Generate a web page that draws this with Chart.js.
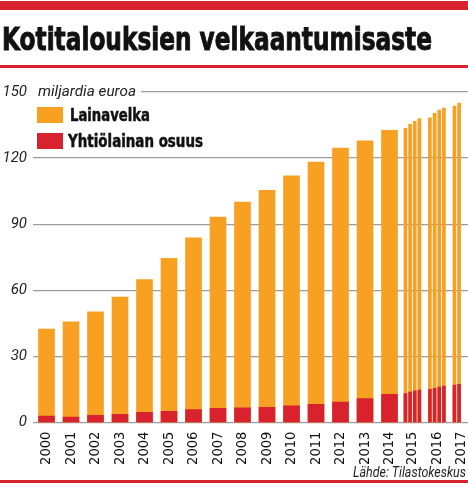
<!DOCTYPE html>
<html><head><meta charset="utf-8">
<script src="https://cdn.jsdelivr.net/npm/chart.js@4.4.1/dist/chart.umd.min.js"></script>
<style>
html,body{margin:0;padding:0;background:#fff;}
#wrap{position:relative;width:468px;height:486px;overflow:hidden;background:#fff;}
#c{position:absolute;left:0;top:0;}
.abs{position:absolute;white-space:nowrap;transform-origin:0 0;line-height:1;}
.band{position:absolute;left:0;width:468px;background:#d8232e;}
#title{left:2px;top:23px;font-family:"Liberation Sans Narrow","DejaVu Sans Condensed",sans-serif;font-weight:bold;font-size:32px;color:#111;-webkit-text-stroke:0.9px #111;}
#unit{left:38px;top:84px;font-family:Roboto,"Liberation Sans",sans-serif;font-style:italic;font-size:15px;color:#222;}
#unitbg{position:absolute;left:33px;top:86px;width:108px;height:12px;background:#fff;}
.sw{position:absolute;left:37px;width:26px;height:16px;}
.leg{font-family:"Liberation Sans Narrow","DejaVu Sans Condensed",sans-serif;font-weight:bold;font-size:18px;color:#111;-webkit-text-stroke:0.5px #111;}
#src{top:465px;font-family:Roboto,"Liberation Sans",sans-serif;font-style:italic;font-size:14px;color:#222;}
</style></head>
<body>
<div id="wrap">
<canvas id="c" width="468" height="486"></canvas>
<div class="band" style="top:1px;height:9px;"></div>
<div class="abs" id="title">Kotitalouksien velkaantumisaste</div>
<div class="band" style="top:65px;height:2.5px;"></div>
<div id="unitbg"></div>
<div class="abs" id="unit">miljardia euroa</div>
<div class="sw" style="top:107px;background:#f7a022;"></div>
<div class="abs leg" id="leg1" style="left:70px;top:106px;">Lainavelka</div>
<div class="sw" style="top:132.5px;background:#d8232e;"></div>
<div class="abs leg" id="leg2" style="left:68px;top:132px;">Yhtiölainan osuus</div>
<div class="abs" id="src">Lähde: Tilastokeskus</div>
<div class="band" style="top:480px;height:3px;"></div>
</div>
<script>
// ---- data ----
const annualYears = [2000,2001,2002,2003,2004,2005,2006,2007,2008,2009,2010,2011,2012,2013,2014];
const annualLoans = [42.5,45.7,50.3,57.0,64.9,74.6,83.9,93.3,100.1,105.4,112.0,118.2,124.6,127.9,132.6];
const annualShare = [3.0,2.6,3.3,3.8,4.7,5.2,5.9,6.5,6.8,7.0,7.7,8.3,9.4,10.9,12.9];
const quarterLabels = ['2015Q1','2015Q2','2015Q3','2015Q4','2016Q1','2016Q2','2016Q3','2016Q4','2017Q1','2017Q2'];
const quarterLoans = [133.5,135.3,136.7,137.9,138.3,140.3,141.8,142.7,143.6,145.0];
const quarterShare = [13.2,13.9,14.4,14.8,15.1,15.6,16.1,16.6,17.1,17.4];
const tickLabels = ['2000','2001','2002','2003','2004','2005','2006','2007','2008','2009','2010','2011','2012','2013','2014','2015','2016','2017'];
const yTicks = [0,30,60,90,120,150];

const ORANGE = '#f7a022', RED = '#d8232e';
// position of quarterly bars within a year slot
const qPos = s => { const y = parseInt(s.slice(0,4)), q = parseInt(s.slice(5)); return y - 0.35 + (q-1)*0.19; };
const tickPos = tickLabels.map(t => { const y = parseInt(t); return y <= 2014 ? y : y - 0.065; });

const annualPts = arr => annualYears.map((y,i)=>({x:y, y:arr[i]}));
const quarterPts = arr => quarterLabels.map((l,i)=>({x:qPos(l), y:arr[i]}));

new Chart(document.getElementById('c'), {
  type:'bar',
  data:{datasets:[
    {label:'Yhtiölainan osuus', data:annualPts(annualShare), backgroundColor:RED, barThickness:16},
    {label:'Yhtiölainan osuus q', data:quarterPts(quarterShare), backgroundColor:RED, barThickness:3},
    {label:'Lainavelka', data:annualPts(annualLoans), backgroundColor:ORANGE, barThickness:16},
    {label:'Lainavelka q', data:quarterPts(quarterLoans), backgroundColor:ORANGE, barThickness:3}
  ]},
  options:{
    responsive:false, animation:false, devicePixelRatio:1,
    layout:{padding:{top:92,left:0,right:0,bottom:0}},
    plugins:{legend:{display:false}, tooltip:{enabled:false}},
    scales:{
      x:{type:'linear', stacked:true, offset:false, min:1999.449, max:2017.204,
        grid:{display:false, offset:false}, border:{display:false},
        afterBuildTicks:s=>{ s.ticks = tickPos.map(v=>({value:v})); },
        afterFit:s=>{ s.height = 63.3; s.paddingLeft = 0; s.paddingRight = 0; },
        ticks:{autoSkip:false, maxRotation:90, minRotation:90, padding:1, color:'#111',
          font:{family:'"DejaVu Sans Condensed", "Liberation Sans", sans-serif', size:14.5},
          callback:(v,i)=>tickLabels[i]}
      },
      y:{stacked:false, min:0, max:150,
        afterBuildTicks:s=>{ s.ticks = yTicks.map(v=>({value:v})); },
        afterFit:s=>{ s.width = 33; },
        grid:{color:'#9d9d9d', lineWidth:1.3, drawTicks:false}, border:{display:false},
        ticks:{padding:6, color:'#222', font:{family:'Roboto, sans-serif', size:15, style:'italic'}}
      }
    }
  }
});

function fit(id, w){ const el=document.getElementById(id); const r=el.getBoundingClientRect().width; el.style.transform='scaleX('+(w/r)+')'; }
fit('title', 430);
fit('unit', 98);
fit('leg1', 80);
fit('leg2', 135);
(function(){ const el=document.getElementById('src'); el.style.left='353px'; fit('src', 113); })();
</script>
</body></html>
